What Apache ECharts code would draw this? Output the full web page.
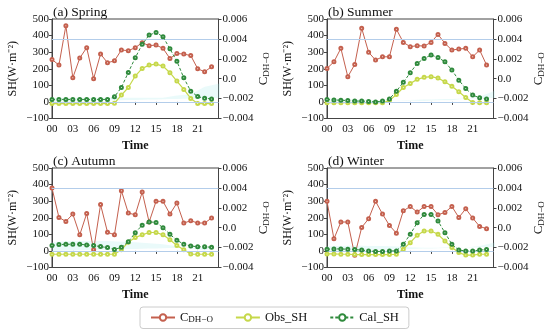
<!DOCTYPE html>
<html><head><meta charset="utf-8">
<script src="https://cdn.jsdelivr.net/npm/echarts@6/dist/echarts.min.js"></script>
<style>html,body{margin:0;padding:0;background:#fff}#c{width:550px;height:335px}</style>
</head><body><div id="c"></div>
<script>
var hours = [0,1,2,3,4,5,6,7,8,9,10,11,12,13,14,15,16,17,18,19,20,21,22,23];
var panelTitles = ['(a) Spring','(b) Summer','(c) Autumn','(d) Winter'];
var xTicks = ['00','03','06','09','12','15','18','21'];

var springC = [0.00193,0.00137,0.00533,0.00010,0.00207,0.00312,0.00000,0.00248,0.00160,0.00180,0.00288,0.00282,0.00312,0.00362,0.00332,0.00338,0.00305,0.00203,0.00253,0.00248,0.00232,0.00100,0.00070,0.00120];
var springObs = [-10,-10,-10,-10,-10,-10,-10,-10,-10,-8,41,87,156,202,222,228,216,176,126,75,21,-10,-10,-10];
var springCal = [15,15,15,15,15,15,15,15,15,31,87,178,266,347,403,419,393,320,245,145,65,32,22,18];

var summerC = [0.00103,0.00170,0.00305,0.00020,0.00143,0.00507,0.00265,0.00187,0.00220,0.00220,0.00497,0.00365,0.00322,0.00332,0.00328,0.00365,0.00445,0.00355,0.00288,0.00298,0.00305,0.00220,0.00288,0.00137];
var summerObs = [-5,-5,-5,-5,-5,-5,-5,-5,-5,8,45,87,111,136,148,152,144,121,95,61,27,-3,-5,-5];
var summerCal = [15,12,10,8,5,5,3,0,5,18,65,118,176,232,262,283,268,242,192,131,81,41,25,17];

var autumnC = [0.00398,0.00103,0.00063,0.00137,-0.00072,0.00143,-0.00222,0.00232,-0.00045,-0.00072,0.00372,0.00147,0.00130,0.00358,0.00057,0.00265,0.00265,0.00137,0.00248,0.00047,0.00070,0.00047,0.00047,0.00097];
var autumnObs = [-20,-20,-20,-20,-20,-20,-20,-20,-20,-20,7,53,81,97,111,111,97,67,33,7,-19,-20,-20,-20];
var autumnCal = [33,38,40,40,40,36,32,26,20,8,22,55,110,155,175,172,140,100,65,40,30,25,25,22];

var winterC = [0.00265,-0.00112,0.00057,0.00057,-0.00278,0.00003,0.00090,0.00265,0.00137,0.00023,-0.00055,0.00170,0.00213,0.00157,0.00213,0.00213,0.00130,0.00153,0.00213,0.00103,0.00190,0.00097,0.00013,-0.00010];
var winterObs = [-18,-18,-20,-20,-22,-22,-22,-22,-22,-22,-20,10,50,95,120,120,100,60,20,-10,-25,-25,-20,-20];
var winterCal = [10,12,12,10,8,5,0,-3,-3,0,0,40,100,170,220,220,180,110,40,5,0,0,5,8];

var cSets = [springC, summerC, autumnC, winterC];
var obsSets = [springObs, summerObs, autumnObs, winterObs];
var calSets = [springCal, summerCal, autumnCal, winterCal];

var FONT = 'Liberation Serif';
var RED = '#c4604e', YEL = '#c6d84a', GRN = '#2f8a3c', BLUE = '#b3cdea';
function pair(vals){ return hours.map(function(h,i){ return [h, vals[i]]; }); }
function minus(s){ return s.replace('-', '\u2212'); }

var gridPos = [[52,19],[327,19],[52,168],[327,168]];
var grids=[], xAxes=[], yAxes=[], series=[], titles=[];
gridPos.forEach(function(p, i){
  grids.push({left:p[0], top:p[1], width:166.5, height:99.5, show:true, borderColor:'#444', borderWidth:1, containLabel:false});
  titles.push({text:panelTitles[i], left:p[0]+1, top:p[1]-14, padding:0, textStyle:{fontFamily:FONT, fontSize:13.5, fontWeight:'normal', color:'#111'}});
  xAxes.push({type:'value', gridIndex:i, min:0, max:24, interval:3,
    name:'Time', nameLocation:'middle', nameGap:21, nameTextStyle:{fontFamily:FONT, fontSize:12, fontWeight:'bold', color:'#111'},
    axisLine:{lineStyle:{color:'#444'}}, axisTick:{length:3, lineStyle:{color:'#444'}}, splitLine:{show:false},
    axisLabel:{fontFamily:FONT, fontSize:11, color:'#111', margin:5, formatter:function(v){ var k=Math.round(v/3); return (v<24 && Math.abs(v-k*3)<1e-6) ? xTicks[k] : ''; }}
  });
  yAxes.push({type:'value', gridIndex:i, min:-100, max:500, interval:100, position:'left',
    name:'SH(W\u00b7m\u207b\u00b2)', nameLocation:'middle', nameGap:33, nameTextStyle:{fontFamily:FONT, fontSize:12, color:'#111'},
    axisLine:{show:true, lineStyle:{color:'#444'}}, axisTick:{show:true, length:3, lineStyle:{color:'#444'}}, splitLine:{show:false},
    axisLabel:{fontFamily:FONT, fontSize:11, color:'#111', margin:3, formatter:function(v){ return minus(String(v)); }}
  });
  yAxes.push({type:'value', gridIndex:i, min:-0.004, max:0.006, interval:0.002, position:'right',
    name:'{a|C}{b|DH\u2212O}', nameLocation:'middle', nameGap:31,
    nameTextStyle:{fontFamily:FONT, color:'#111', rich:{a:{fontFamily:FONT, fontSize:13, color:'#111'}, b:{fontFamily:FONT, fontSize:9, color:'#111', padding:[6,0,0,0]}}},
    axisLine:{show:true, lineStyle:{color:'#444'}}, axisTick:{show:true, length:3, lineStyle:{color:'#444'}}, splitLine:{show:false},
    axisLabel:{fontFamily:FONT, fontSize:11, color:'#111', margin:4, formatter:function(v){ if(Math.abs(v)<1e-9) return '0.0'; return minus(v.toFixed(3)); }}
  });
  var o = obsSets[i], c = calSets[i], cc = cSets[i];
  series.push({type:'line', xAxisIndex:i, yAxisIndex:2*i, stack:'band'+i, stackStrategy:'all', silent:true,
    data:pair(o.map(function(v,k){ return Math.min(v, c[k]); })), symbol:'none', lineStyle:{opacity:0}, z:1});
  series.push({type:'line', xAxisIndex:i, yAxisIndex:2*i, stack:'band'+i, stackStrategy:'all', silent:true,
    data:pair(o.map(function(v,k){ return Math.abs(c[k]-v); })), symbol:'none', lineStyle:{opacity:0},
    areaStyle:{color:'rgba(170,235,235,0.35)'}, z:1});
  series.push({name:'C_DH-O', type:'line', xAxisIndex:i, yAxisIndex:2*i+1, data:pair(cc),
    symbol:'emptyCircle', symbolSize:3, lineStyle:{color:RED, width:1}, itemStyle:{color:RED, borderWidth:0.7}, z:3,
    markLine:{silent:true, precision:4, symbol:'none', label:{show:false}, lineStyle:{color:BLUE, type:'solid', width:1}, data:[{yAxis:0.004}]}
  });
  series.push({name:'Obs_SH', type:'line', xAxisIndex:i, yAxisIndex:2*i, data:pair(o),
    symbol:'emptyCircle', symbolSize:3, lineStyle:{color:YEL, width:1.2}, itemStyle:{color:YEL, borderWidth:0.7}, z:4,
    markLine:{silent:true, symbol:'none', label:{show:false}, lineStyle:{color:BLUE, type:'solid', width:1}, data:[{yAxis:0}]}
  });
  series.push({name:'Cal_SH', type:'line', xAxisIndex:i, yAxisIndex:2*i, data:pair(c),
    symbol:'emptyCircle', symbolSize:3, lineStyle:{color:GRN, width:1, type:[3,2]}, itemStyle:{color:GRN, borderWidth:0.7}, z:5
  });
});

var chart = echarts.init(document.getElementById('c'), null, {renderer:'canvas'});
chart.setOption({
  animation:false,
  backgroundColor:'#fff',
  title:titles,
  grid:grids, xAxis:xAxes, yAxis:yAxes, series:series,
  legend:{data:['C_DH-O','Obs_SH','Cal_SH'], left:140, top:307, itemWidth:24, itemHeight:8, itemGap:22,
    padding:[4,10,4,10], borderColor:'#cccccc', borderWidth:1, borderRadius:3,
    formatter:function(n){ return n==='C_DH-O' ? '{a|C}{b|DH\u2212O}' : n; },
    textStyle:{fontFamily:FONT, fontSize:12.5, color:'#111', rich:{a:{fontFamily:FONT, fontSize:12.5, color:'#111'}, b:{fontFamily:FONT, fontSize:9, color:'#111', padding:[5,0,0,0]}}}
  }
});
</script></body></html>
